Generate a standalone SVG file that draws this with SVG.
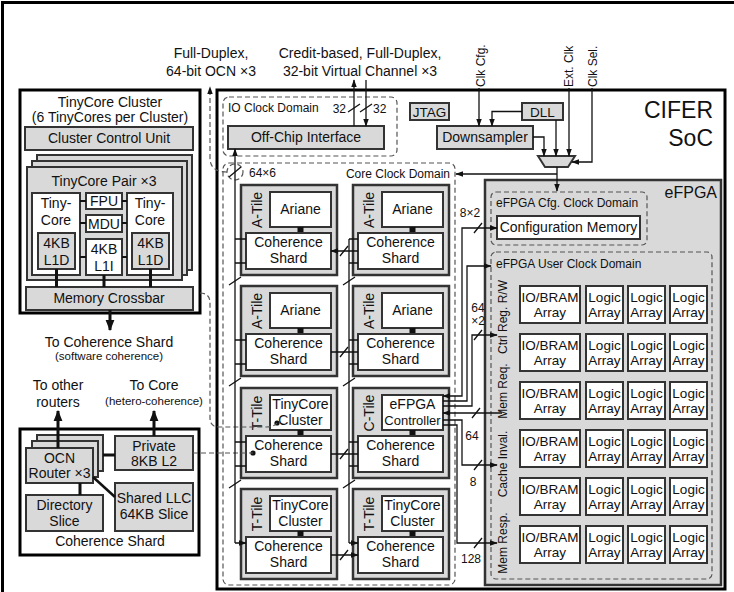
<svg xmlns="http://www.w3.org/2000/svg" width="734" height="592" viewBox="0 0 734 592">
<defs>
<style>
text{font-family:"Liberation Sans",Arial,Helvetica,sans-serif;fill:#111;font-size:14px}
.m{text-anchor:middle}
.e{text-anchor:end}
.s{font-size:12px}
.xs{font-size:11.5px}
.f{font-size:13.5px}
.g{fill:#d9d9d9;stroke:#333;stroke-width:2}
.w{fill:#fff;stroke:#333;stroke-width:2}
.k{fill:#fff;stroke:#000;stroke-width:3}
.d{fill:none;stroke:#555;stroke-width:1.2;stroke-dasharray:5 3}
.l{fill:none;stroke:#111;stroke-width:1.3}
.lb{fill:none;stroke:#111;stroke-width:3}
.l2{fill:none;stroke:#111;stroke-width:2}
.a{marker-end:url(#ah)}
.ab{marker-end:url(#ahb)}
.aa{marker-start:url(#ah);marker-end:url(#ah)}
.tile{fill:#d9d9d9;stroke:#333;stroke-width:2.5}
.sq{fill:#111}
</style>
<marker id="ah" viewBox="0 0 10 10" refX="9" refY="5" markerWidth="8" markerHeight="8" markerUnits="userSpaceOnUse" orient="auto-start-reverse"><path d="M0,1.5 L10,5 L0,8.5z" fill="#111"/></marker>
<marker id="ahb" viewBox="0 0 10 10" refX="9" refY="5" markerWidth="11" markerHeight="11" markerUnits="userSpaceOnUse" orient="auto-start-reverse"><path d="M0,1 L10,5 L0,9z" fill="#111"/></marker>
</defs>
<rect x="0" y="0" width="734" height="592" fill="#fff"/>
<rect x="2.5" y="2.5" width="740" height="600" fill="none" stroke="#000" stroke-width="3"/>

<g id="labels-top">
<text class="m" x="211" y="58">Full-Duplex,</text>
<text class="m" x="211" y="76">64-bit OCN ×3</text>
<text class="m" x="360" y="58">Credit-based, Full-Duplex,</text>
<text class="m" x="360" y="76">32-bit Virtual Channel ×3</text>
<text class="s" transform="translate(485,87) rotate(-90)">Clk Cfg.</text>
<text class="s" transform="translate(573,87) rotate(-90)">Ext. Clk</text>
<text class="s" transform="translate(597,87) rotate(-90)">Clk Sel.</text>
</g>

<g id="soc">
<rect x="217" y="90" width="508" height="499" fill="#fff" stroke="#000" stroke-width="3"/>
<text class="e" x="713" y="118" style="font-size:23px">CIFER</text>
<text class="e" x="713" y="146" style="font-size:23px">SoC</text>
</g>

<g id="tinycore-cluster">
<rect class="k" x="20" y="90" width="180" height="223"/>
<text class="m" x="110" y="107">TinyCore Cluster</text>
<text class="m" x="110" y="122">(6 TinyCores per Cluster)</text>
<rect class="g" x="25" y="127" width="168" height="23"/>
<text class="m" x="109" y="143">Cluster Control Unit</text>
<rect class="g" x="37" y="155" width="155" height="115"/>
<rect class="g" x="32" y="161" width="155" height="114"/>
<rect class="g" x="27" y="167" width="155" height="113"/>
<text class="m" x="104" y="186">TinyCore Pair ×3</text>
<rect class="w" x="32" y="193" width="48" height="82"/>
<text class="m" x="56" y="208">Tiny-</text>
<text class="m" x="56" y="225">Core</text>
<rect class="g" x="38" y="233" width="37" height="36"/>
<text class="m" x="56.5" y="248">4KB</text>
<text class="m" x="56.5" y="265">L1D</text>
<rect class="w" x="86" y="193" width="36" height="16"/>
<text class="m" x="104" y="206">FPU</text>
<rect class="w" x="86" y="215" width="36" height="17"/>
<text class="m" x="104" y="228.5">MDU</text>
<rect class="w" x="86" y="239" width="36" height="36"/>
<text class="m" x="104" y="254">4KB</text>
<text class="m" x="104" y="271">L1I</text>
<rect class="w" x="127" y="193" width="46" height="82"/>
<text class="m" x="150" y="208">Tiny-</text>
<text class="m" x="150" y="225">Core</text>
<rect class="g" x="132" y="233" width="37" height="36"/>
<text class="m" x="150.5" y="248">4KB</text>
<text class="m" x="150.5" y="265">L1D</text>
<rect class="g" x="26" y="287" width="167" height="23"/>
<text class="m" x="109" y="303">Memory Crossbar</text>
<path class="l2" d="M80,201H86M122,201H127M80,223H86M122,223H127M80,257H86M122,257H127"/>
<path class="lb" d="M56.5,269V287M104,275V287M150.5,269V287"/>
</g>

<g id="cluster-notes">
<text class="m" x="109" y="347">To Coherence Shard</text>
<text class="m xs" x="109" y="360">(software coherence)</text>
<text class="m" x="58" y="390">To other</text>
<text class="m" x="58" y="407">routers</text>
<text class="m" x="154" y="390">To Core</text>
<text class="m xs" x="154" y="405">(hetero-coherence)</text>
</g>

<g id="coherence-shard">
<rect class="k" x="20" y="429" width="179" height="126"/>
<rect class="g" x="37" y="435" width="66" height="36"/>
<rect class="g" x="32" y="441" width="66" height="36"/>
<rect class="g" x="26" y="448" width="67" height="35"/>
<text class="m" x="59.5" y="463">OCN</text>
<text class="m" x="59.5" y="478">Router ×3</text>
<rect class="g" x="115" y="436" width="78" height="34"/>
<text class="m" x="154" y="451">Private</text>
<text class="m" x="154" y="466">8KB L2</text>
<rect class="g" x="115" y="483" width="78" height="48"/>
<text class="m" x="154" y="503">Shared LLC</text>
<text class="m" x="154" y="519">64KB Slice</text>
<rect class="g" x="26" y="495" width="77" height="36"/>
<text class="m" x="64.5" y="510">Directory</text>
<text class="m" x="64.5" y="526">Slice</text>
<text class="m" x="110" y="546">Coherence Shard</text>
<path class="lb" d="M103,455H115M80,483V495"/>
<path class="l" style="stroke-width:2.5" d="M93,477L115,497"/>
</g>

<g id="io-domain">
<rect class="d" x="223" y="97" width="174" height="59" rx="6"/>
<text class="s" x="228" y="112">IO Clock Domain</text>
<rect class="g" x="228" y="126" width="156" height="23"/>
<text class="m" x="306" y="142">Off-Chip Interface</text>
<text class="e s" x="346" y="113">32</text>
<text class="s" x="373" y="113">32</text>
</g>

<g id="jtag"><rect class="g" x="410" y="103" width="39" height="17"/><text class="m f" x="429.5" y="117">JTAG</text></g>
<g id="dll"><rect class="g" x="522" y="103" width="41" height="17"/><text class="m f" x="542.5" y="117">DLL</text></g>
<g id="downsampler"><rect class="g" x="437" y="126" width="96" height="23"/><text class="m" x="485" y="142">Downsampler</text></g>
<g id="mux"><polygon class="g" points="538,156 575,156 568,167 545,167"/></g>

<g id="core-domain">
<rect class="d" x="223" y="163" width="232" height="422" rx="6"/>
<text class="e s" x="450" y="178">Core Clock Domain</text>
<circle class="d" cx="235" cy="172" r="8"/>
<text class="s" x="249" y="177">64×6</text>
</g>

<g id="tile-a1">
<rect class="tile" x="241" y="185" width="96" height="90"/>
<text class="m" transform="translate(262,210) rotate(-90)">A-Tile</text>
<rect class="w" x="270" y="192" width="61" height="35"/>
<text class="m" x="300.5" y="214">Ariane</text>
<rect class="sq" x="297.5" y="227" width="6" height="6"/>
<rect class="w" x="246" y="233" width="85" height="36"/>
<text class="m" x="288.5" y="247">Coherence</text>
<text class="m" x="288.5" y="263">Shard</text>
</g>
<g id="tile-a2">
<rect class="tile" x="353" y="185" width="96" height="90"/>
<text class="m" transform="translate(374,210) rotate(-90)">A-Tile</text>
<rect class="w" x="382" y="192" width="61" height="35"/>
<text class="m" x="412.5" y="214">Ariane</text>
<rect class="sq" x="409.5" y="227" width="6" height="6"/>
<rect class="w" x="358" y="233" width="85" height="36"/>
<text class="m" x="400.5" y="247">Coherence</text>
<text class="m" x="400.5" y="263">Shard</text>
</g>
<g id="tile-a3">
<rect class="tile" x="241" y="286" width="96" height="90"/>
<text class="m" transform="translate(262,311) rotate(-90)">A-Tile</text>
<rect class="w" x="270" y="293" width="61" height="35"/>
<text class="m" x="300.5" y="315">Ariane</text>
<rect class="sq" x="297.5" y="328" width="6" height="6"/>
<rect class="w" x="246" y="334" width="85" height="36"/>
<text class="m" x="288.5" y="348">Coherence</text>
<text class="m" x="288.5" y="364">Shard</text>
</g>
<g id="tile-a4">
<rect class="tile" x="353" y="286" width="96" height="90"/>
<text class="m" transform="translate(374,311) rotate(-90)">A-Tile</text>
<rect class="w" x="382" y="293" width="61" height="35"/>
<text class="m" x="412.5" y="315">Ariane</text>
<rect class="sq" x="409.5" y="328" width="6" height="6"/>
<rect class="w" x="358" y="334" width="85" height="36"/>
<text class="m" x="400.5" y="348">Coherence</text>
<text class="m" x="400.5" y="364">Shard</text>
</g>
<g id="tile-t1">
<rect class="tile" x="241" y="388" width="96" height="90"/>
<text class="m" transform="translate(262,413) rotate(-90)">T-Tile</text>
<rect class="w" x="270" y="395" width="61" height="35"/>
<text class="m" x="300.5" y="409">TinyCore</text>
<text class="m" x="300.5" y="425">Cluster</text>
<rect class="sq" x="297.5" y="430" width="6" height="6"/>
<rect class="w" x="246" y="436" width="85" height="36"/>
<text class="m" x="288.5" y="450">Coherence</text>
<text class="m" x="288.5" y="466">Shard</text>
<circle cx="277" cy="423" r="2.6" fill="#111"/>
<circle cx="253" cy="453" r="2.6" fill="#111"/>
</g>
<g id="tile-c">
<rect class="tile" x="353" y="388" width="96" height="90"/>
<text class="m" transform="translate(374,413) rotate(-90)">C-Tile</text>
<rect class="w" x="382" y="395" width="61" height="35"/>
<text class="m" x="412.5" y="409">eFPGA</text>
<text class="m" x="412.5" y="425" style="font-size:13px">Controller</text>
<rect class="sq" x="409.5" y="430" width="6" height="6"/>
<rect class="w" x="358" y="436" width="85" height="36"/>
<text class="m" x="400.5" y="450">Coherence</text>
<text class="m" x="400.5" y="466">Shard</text>
</g>
<g id="tile-t2">
<rect class="tile" x="241" y="489" width="96" height="90"/>
<text class="m" transform="translate(262,514) rotate(-90)">T-Tile</text>
<rect class="w" x="270" y="496" width="61" height="35"/>
<text class="m" x="300.5" y="510">TinyCore</text>
<text class="m" x="300.5" y="526">Cluster</text>
<rect class="sq" x="297.5" y="531" width="6" height="6"/>
<rect class="w" x="246" y="537" width="85" height="36"/>
<text class="m" x="288.5" y="551">Coherence</text>
<text class="m" x="288.5" y="567">Shard</text>
</g>
<g id="tile-t3">
<rect class="tile" x="353" y="489" width="96" height="90"/>
<text class="m" transform="translate(374,514) rotate(-90)">T-Tile</text>
<rect class="w" x="382" y="496" width="61" height="35"/>
<text class="m" x="412.5" y="510">TinyCore</text>
<text class="m" x="412.5" y="526">Cluster</text>
<rect class="sq" x="409.5" y="531" width="6" height="6"/>
<rect class="w" x="358" y="537" width="85" height="36"/>
<text class="m" x="400.5" y="551">Coherence</text>
<text class="m" x="400.5" y="567">Shard</text>
</g>

<g id="efpga">
<rect x="485" y="180" width="236" height="405" fill="#d9d9d9" stroke="#333" stroke-width="2.5"/>
<text class="e" x="717" y="198" style="font-size:16px">eFPGA</text>
<rect class="d" x="491" y="192" width="156" height="53" rx="5"/>
<text class="s" x="496" y="207">eFPGA Cfg. Clock Domain</text>
<rect class="w" x="497" y="216" width="143" height="23"/>
<text class="m" x="568.5" y="232">Configuration Memory</text>
<rect class="d" x="491" y="252" width="221" height="327" rx="5"/>
<text class="s" x="496" y="268">eFPGA User Clock Domain</text>
<text class="m s" transform="translate(507,317) rotate(-90)">Ctrl Reg. R/W</text>
<text class="m s" transform="translate(507,391) rotate(-90)">Mem Req.</text>
<text class="m s" transform="translate(507,464) rotate(-90)">Cache Inval.</text>
<text class="m s" transform="translate(507,543) rotate(-90)">Mem Resp.</text>
</g>

<g id="fabric">
<g id="row1">
<rect class="w" x="520" y="286" width="60" height="37"/><text class="m f" x="550" y="302">IO/BRAM</text><text class="m f" x="550" y="317">Array</text>
<rect class="w" x="586" y="286" width="37" height="37"/><text class="m f" x="604.5" y="302">Logic</text><text class="m f" x="604.5" y="317">Array</text>
<rect class="w" x="628" y="286" width="37" height="37"/><text class="m f" x="646.5" y="302">Logic</text><text class="m f" x="646.5" y="317">Array</text>
<rect class="w" x="670" y="286" width="37" height="37"/><text class="m f" x="688.5" y="302">Logic</text><text class="m f" x="688.5" y="317">Array</text>
</g>
<g id="row2">
<rect class="w" x="520" y="334" width="60" height="37"/><text class="m f" x="550" y="350">IO/BRAM</text><text class="m f" x="550" y="365">Array</text>
<rect class="w" x="586" y="334" width="37" height="37"/><text class="m f" x="604.5" y="350">Logic</text><text class="m f" x="604.5" y="365">Array</text>
<rect class="w" x="628" y="334" width="37" height="37"/><text class="m f" x="646.5" y="350">Logic</text><text class="m f" x="646.5" y="365">Array</text>
<rect class="w" x="670" y="334" width="37" height="37"/><text class="m f" x="688.5" y="350">Logic</text><text class="m f" x="688.5" y="365">Array</text>
</g>
<g id="row3">
<rect class="w" x="520" y="382" width="60" height="37"/><text class="m f" x="550" y="398">IO/BRAM</text><text class="m f" x="550" y="413">Array</text>
<rect class="w" x="586" y="382" width="37" height="37"/><text class="m f" x="604.5" y="398">Logic</text><text class="m f" x="604.5" y="413">Array</text>
<rect class="w" x="628" y="382" width="37" height="37"/><text class="m f" x="646.5" y="398">Logic</text><text class="m f" x="646.5" y="413">Array</text>
<rect class="w" x="670" y="382" width="37" height="37"/><text class="m f" x="688.5" y="398">Logic</text><text class="m f" x="688.5" y="413">Array</text>
</g>
<g id="row4">
<rect class="w" x="520" y="430" width="60" height="37"/><text class="m f" x="550" y="446">IO/BRAM</text><text class="m f" x="550" y="461">Array</text>
<rect class="w" x="586" y="430" width="37" height="37"/><text class="m f" x="604.5" y="446">Logic</text><text class="m f" x="604.5" y="461">Array</text>
<rect class="w" x="628" y="430" width="37" height="37"/><text class="m f" x="646.5" y="446">Logic</text><text class="m f" x="646.5" y="461">Array</text>
<rect class="w" x="670" y="430" width="37" height="37"/><text class="m f" x="688.5" y="446">Logic</text><text class="m f" x="688.5" y="461">Array</text>
</g>
<g id="row5">
<rect class="w" x="520" y="478" width="60" height="37"/><text class="m f" x="550" y="494">IO/BRAM</text><text class="m f" x="550" y="509">Array</text>
<rect class="w" x="586" y="478" width="37" height="37"/><text class="m f" x="604.5" y="494">Logic</text><text class="m f" x="604.5" y="509">Array</text>
<rect class="w" x="628" y="478" width="37" height="37"/><text class="m f" x="646.5" y="494">Logic</text><text class="m f" x="646.5" y="509">Array</text>
<rect class="w" x="670" y="478" width="37" height="37"/><text class="m f" x="688.5" y="494">Logic</text><text class="m f" x="688.5" y="509">Array</text>
</g>
<g id="row6">
<rect class="w" x="520" y="526" width="60" height="37"/><text class="m f" x="550" y="542">IO/BRAM</text><text class="m f" x="550" y="557">Array</text>
<rect class="w" x="586" y="526" width="37" height="37"/><text class="m f" x="604.5" y="542">Logic</text><text class="m f" x="604.5" y="557">Array</text>
<rect class="w" x="628" y="526" width="37" height="37"/><text class="m f" x="646.5" y="542">Logic</text><text class="m f" x="646.5" y="557">Array</text>
<rect class="w" x="670" y="526" width="37" height="37"/><text class="m f" x="688.5" y="542">Logic</text><text class="m f" x="688.5" y="557">Array</text>
</g>
</g>

<g id="connectors">
<path class="lb ab" d="M110,310V330"/>
<path class="lb ab" d="M58,448V411"/>
<path class="lb ab" d="M154,436V411"/>
<path class="d" d="M200,293Q210,293 210,303V418Q210,427 219,427H266Q274,427 277,423"/>
<path class="d" d="M193,453H253"/>
<path class="d a" d="M227,172Q210,172 210,158V87"/>
<path class="l a" d="M354,126V80"/>
<path class="l a" d="M366,80V126"/>
<path class="l" d="M348,112L360,104M360,112L372,104"/>
<path class="l a" d="M479,88V126"/>
<path class="l a" d="M522,111.5H492V126"/>
<path class="l a" d="M556,120V156"/>
<path class="l a" d="M533,137H544V156"/>
<path class="l a" d="M569,88V156"/>
<path class="l a" d="M592,88V162H572"/>
<path class="l a" d="M557,167V191"/>
<path class="l a" d="M557,174H456"/>
<path class="l a" d="M235,543V149"/>
<path class="l" d="M229,177L241,167"/>
<path class="l" d="M349,239V543"/>
<path class="l a" d="M235,239H246M235,263H246M235,340H246M235,364H246M235,442H246M235,466H246M235,543H246"/>
<path class="l a" d="M349,239H358M349,263H358M349,340H358M349,364H358M349,442H358M349,466H358M349,543H358"/>
<path class="l" d="M229,285L241,277M229,386L241,378M229,488L241,480M343,285L355,277M343,386L355,378M343,488L355,480"/>
<path class="l aa" d="M331,251H358M331,352H358M331,454H358M331,555H358"/>
<path class="l" d="M340,256L348,246M340,357L348,347M340,459L348,449M340,560L348,550"/>
<path class="l aa" d="M443,396H462V228H497"/>
<path class="l a" d="M443,401H467V266H491"/>
<path class="l a" d="M443,406H472V335H497"/>
<path class="l a" d="M502,413H443"/>
<path class="l a" d="M443,420H462V465H497"/>
<path class="l a" d="M443,425H457V543H497"/>
<path class="l" d="M474,233L482,223M474,340L482,330M472,418L480,408M474,470L482,460M474,548L482,538"/>
<text class="m s" x="470" y="217">8×2</text>
<text class="m s" x="478" y="312">64</text>
<text class="m s" x="478" y="325">×2</text>
<text class="m s" x="472" y="440">64</text>
<text class="m s" x="473" y="486">8</text>
<text class="m s" x="471" y="563">128</text>
</g>
</svg>
